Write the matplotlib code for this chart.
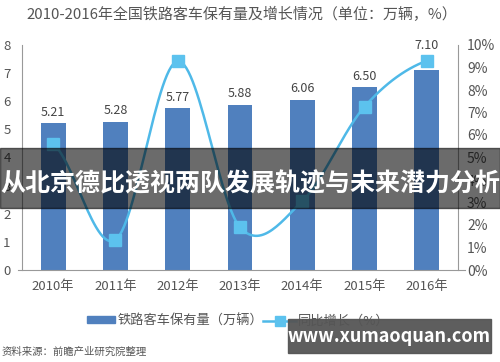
import numpy as np
import matplotlib
matplotlib.use("Agg")
import matplotlib.pyplot as plt
from matplotlib.patches import Rectangle
from matplotlib.lines import Line2D

plt.rcParams['font.family'] = ['Noto Sans CJK SC', 'DejaVu Sans']

years = ['2010年', '2011年', '2012年', '2013年', '2014年', '2015年', '2016年']
stock = [5.21, 5.28, 5.77, 5.88, 6.06, 6.50, 7.10]
growth = [5.6, 1.34, 9.28, 1.9, 3.06, 7.26, 9.3]
left_ticks = [0, 1, 2, 3, 4, 5, 6, 7, 8]
right_ticks = [0, 1, 2, 3, 4, 5, 6, 7, 8, 9, 10]
right_labels = ['0%', '1%', '2%', '3%', '4%', '5%', '6%', '7%', '8%', '9%', '10%']

BAR = '#5080be'
LINE = '#4fb9e8'
GRAY = '#555555'

fig = plt.figure(figsize=(5.0, 3.62), dpi=100)
W, H = 500, 362
ax = fig.add_axes([22 / W, (H - 270) / H, (458 - 22) / W, (270 - 45) / H])
x = np.arange(len(years))
ax.bar(x, stock, width=0.4, color=BAR, zorder=2)

YMAX_L, YMAX_R = 8, 10
for xi, v, gv in zip(x, stock, growth):
    mk = gv * YMAX_L / YMAX_R
    anchor = v
    if 0 < mk - v < 1:
        anchor = mk + 0.15
    ax.annotate(f'{v:.2f}', (xi, anchor), xytext=(0, 3), textcoords='offset points',
                ha='center', va='bottom', fontsize=9, color='#444444')
ax.set_xlim(-0.5, 6.5)
ax.set_ylim(0, YMAX_L)
ax.set_yticks(left_ticks)
ax.set_xticks(x)
ax.set_xticklabels(years)
ax.tick_params(axis='x', length=0, pad=7, labelsize=9.5, labelcolor='#555555')
ax.tick_params(axis='y', length=0, pad=13.5, labelsize=9.5, labelcolor='#555555')
for lbl in ax.get_yticklabels():
    lbl.set_ha('left')
for s in ['top', 'right', 'bottom']:
    ax.spines[s].set_visible(False)
ax.spines['left'].set_color('#999999')
ax.spines['left'].set_linewidth(0.8)
ax.axhline(0, xmin=-0.01, xmax=1.016, color='#999999', lw=0.8, clip_on=False, zorder=3)

ax2 = ax.twinx()
ax2.set_ylim(0, YMAX_R)
ax2.set_yticks(right_ticks)
ax2.set_yticklabels(right_labels)
ax2.tick_params(axis='y', length=0, pad=6.5, labelsize=10, labelcolor='#555555')
for s in ['top', 'left', 'bottom']:
    ax2.spines[s].set_visible(False)
ax2.spines['right'].set_color('#999999')
ax2.spines['right'].set_linewidth(0.8)

# Catmull-Rom smoothing of the line through the data points
g = np.array(growth, dtype=float)
px, py = [], []
n = len(g)
for i in range(n - 1):
    p0 = g[i - 1] if i > 0 else g[i]
    p1, p2 = g[i], g[i + 1]
    p3 = g[i + 2] if i + 2 < n else g[i + 1]
    t = np.linspace(0, 1, 30)
    yy = 0.5 * ((2 * p1) + (-p0 + p2) * t + (2 * p0 - 5 * p1 + 4 * p2 - p3) * t ** 2
                + (-p0 + 3 * p1 - 3 * p2 + p3) * t ** 3)
    px.extend(i + t)
    py.extend(yy)
ax2.plot(px, py, color=LINE, lw=1.8, zorder=4)
ax2.plot(x, g, ls='none', marker='s', ms=8, color='#5cc2ee', zorder=5)

fig.text(242 / W, 1 - 14 / H, '2010-2016年全国铁路客车保有量及增长情况（单位：万辆，%）',
         ha='center', va='center', fontsize=10.8, color=GRAY)

# legend
fig.patches.append(Rectangle((87 / W, 1 - 323 / H), 28 / W, 7 / H, transform=fig.transFigure,
                             color=BAR))
fig.text(118 / W, 1 - 321 / H, '铁路客车保有量（万辆）', ha='left', va='center', fontsize=9.5,
         color=GRAY)
fig.lines.append(Line2D([263 / W, 296 / W], [1 - 321 / H, 1 - 321 / H], transform=fig.transFigure,
                        color=LINE, lw=1.8))
fig.lines.append(Line2D([279.5 / W], [1 - 321 / H], transform=fig.transFigure, marker='s', ms=7,
                        color='#5cc2ee', ls='none'))
fig.text(298 / W, 1 - 321 / H, '同比增长（%）', ha='left', va='center', fontsize=9.5, color=GRAY)

fig.text(2 / W, 1 - 352 / H, '资料来源：前瞻产业研究院整理', ha='left', va='center', fontsize=7.5,
         color=GRAY)

# overlay banner
fig.patches.append(Rectangle((0, 1 - 208 / H), 1, 60 / H, transform=fig.transFigure,
                             color='black', alpha=0.58, zorder=10))
fig.text(0.5, 1 - 184 / H, '从北京德比透视两队发展轨迹与未来潜力分析', ha='center', va='center',
         fontsize=18, color='white', fontweight='bold', zorder=11)

fig.patches.append(Rectangle((288 / W, 1 - 353 / H), 203 / W, 34 / H, transform=fig.transFigure,
                             color='#555555', alpha=0.95, zorder=10))
fig.text(389 / W, 1 - 337 / H, 'www.xumaoquan.com', ha='center', va='center',
         fontsize=13, color='white', fontweight='bold', zorder=11)

fig.savefig('out.png', dpi=100)
